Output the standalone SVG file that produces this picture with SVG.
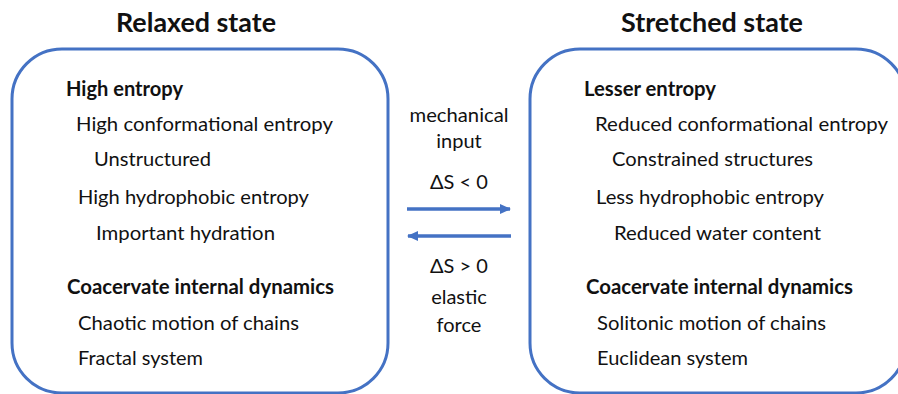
<svg xmlns="http://www.w3.org/2000/svg" width="898" height="394" viewBox="0 0 898 394">
<style>
text{font-family:Lato,"Liberation Sans",sans-serif;fill:#111}
.t{font-size:26px;font-weight:bold}
.h{font-size:20px;font-weight:bold}
.n{font-size:20px}
.m{font-size:20px;text-anchor:middle}
.box{fill:#fff;stroke:#4472C4;stroke-width:3}
.arr{stroke:#4472C4;stroke-width:3.5;fill:none}
</style>
<defs>
<marker id="ah" markerWidth="11" markerHeight="10" refX="10" refY="5" orient="auto" markerUnits="userSpaceOnUse">
<path d="M0,0 L11,5 L0,10 Z" fill="#4472C4"/>
</marker>
</defs>
<rect width="898" height="394" fill="#fff"/>
<g id="relaxed">
<text class="t" x="116" y="32" textLength="160" lengthAdjust="spacingAndGlyphs">Relaxed state</text>
<rect class="box" x="12" y="49" width="376" height="344" rx="50"/>
<text class="h" x="66" y="96" textLength="117" lengthAdjust="spacingAndGlyphs">High entropy</text>
<text class="n" x="76" y="131" textLength="257" lengthAdjust="spacingAndGlyphs">High conformational entropy</text>
<text class="n" x="94" y="166" textLength="117" lengthAdjust="spacingAndGlyphs">Unstructured</text>
<text class="n" x="78" y="204" textLength="231" lengthAdjust="spacingAndGlyphs">High hydrophobic entropy</text>
<text class="n" x="96" y="240" textLength="179" lengthAdjust="spacingAndGlyphs">Important hydration</text>
<text class="h" x="67" y="294" textLength="267" lengthAdjust="spacingAndGlyphs">Coacervate internal dynamics</text>
<text class="n" x="78" y="330" textLength="221" lengthAdjust="spacingAndGlyphs">Chaotic motion of chains</text>
<text class="n" x="78" y="365" textLength="125" lengthAdjust="spacingAndGlyphs">Fractal system</text>
</g>
<g id="stretched">
<text class="t" x="621" y="32" textLength="182" lengthAdjust="spacingAndGlyphs">Stretched state</text>
<rect class="box" x="530" y="49" width="376" height="344" rx="50"/>
<text class="h" x="584" y="96" textLength="132" lengthAdjust="spacingAndGlyphs">Lesser entropy</text>
<text class="n" x="595" y="131" textLength="293" lengthAdjust="spacingAndGlyphs">Reduced conformational entropy</text>
<text class="n" x="612" y="166" textLength="201" lengthAdjust="spacingAndGlyphs">Constrained structures</text>
<text class="n" x="596" y="204" textLength="228" lengthAdjust="spacingAndGlyphs">Less hydrophobic entropy</text>
<text class="n" x="614" y="240" textLength="207" lengthAdjust="spacingAndGlyphs">Reduced water content</text>
<text class="h" x="586" y="294" textLength="267" lengthAdjust="spacingAndGlyphs">Coacervate internal dynamics</text>
<text class="n" x="597" y="330" textLength="229" lengthAdjust="spacingAndGlyphs">Solitonic motion of chains</text>
<text class="n" x="597" y="365" textLength="151" lengthAdjust="spacingAndGlyphs">Euclidean system</text>
</g>
<g id="middle">
<text class="m" x="459" y="122" textLength="99" lengthAdjust="spacingAndGlyphs">mechanical</text>
<text class="m" x="459" y="148">input</text>
<text class="m" x="459" y="189">ΔS &lt; 0</text>
<text class="m" x="459" y="273">ΔS &gt; 0</text>
<text class="m" x="459" y="304">elastic</text>
<text class="m" x="459" y="332">force</text>
</g>
<g id="connectors">
<line class="arr" x1="407" y1="209" x2="510" y2="209" marker-end="url(#ah)"/>
<line class="arr" x1="511" y1="236" x2="408" y2="236" marker-end="url(#ah)"/>
</g>
</svg>
